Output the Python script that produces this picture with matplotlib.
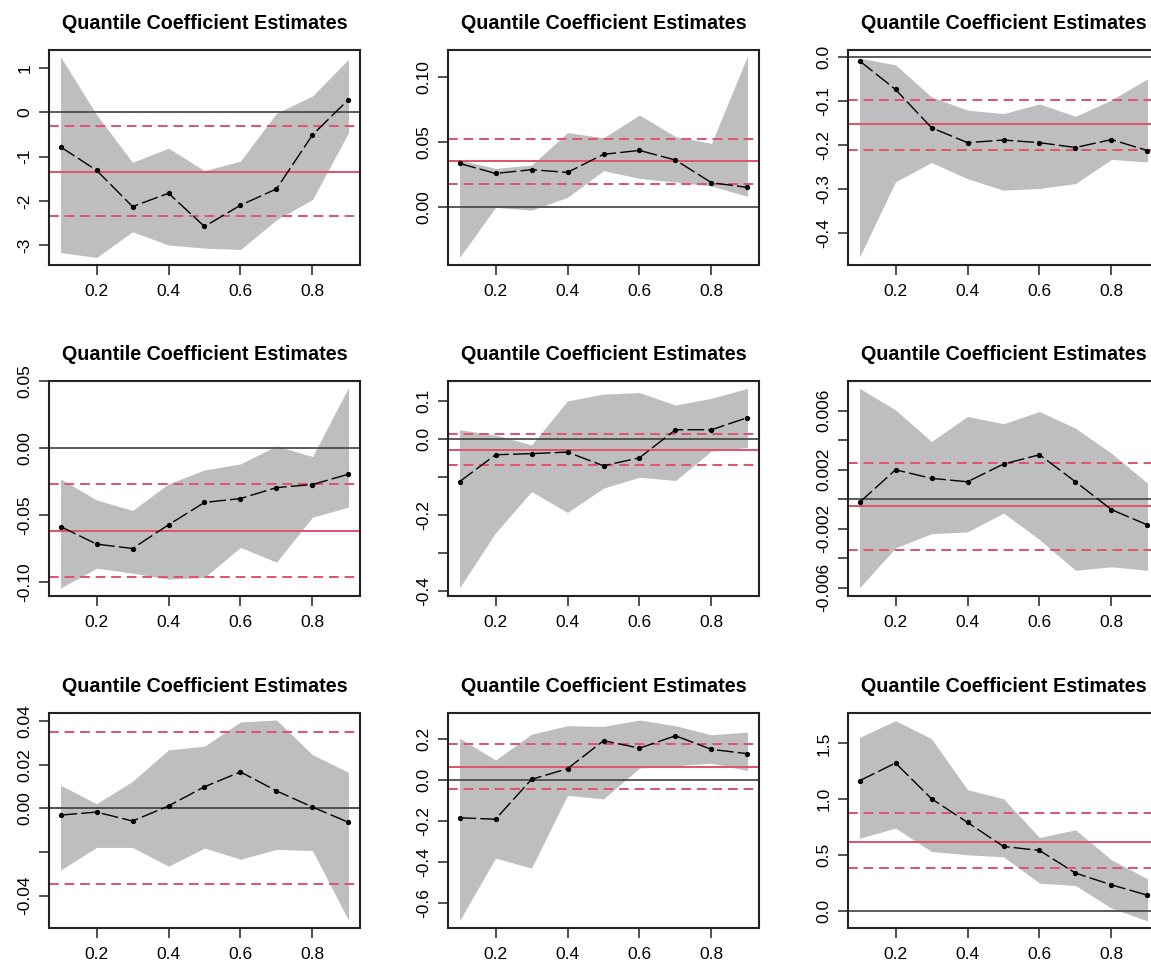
import matplotlib
matplotlib.use('Agg')
import matplotlib.pyplot as plt

plt.rcParams['font.family'] = ['Liberation Sans', 'DejaVu Sans']

# quantiles
taus = [0.1, 0.2, 0.3, 0.4, 0.5, 0.6, 0.7, 0.8, 0.9]

# --- quantile estimates (est), confidence band (lo / hi), OLS estimate and its band ---
est_1 = [-0.78, -1.31, -2.13, -1.83, -2.58, -2.10, -1.73, -0.51, 0.29]
lo_1 = [-3.17, -3.28, -2.70, -3.00, -3.07, -3.10, -2.43, -1.97, -0.46]
hi_1 = [1.26, -0.05, -1.13, -0.81, -1.32, -1.10, -0.02, 0.37, 1.20]
ols_1 = [-1.35, -2.35, -0.30]

est_2 = [0.0333, 0.0256, 0.0285, 0.0264, 0.0403, 0.0433, 0.0359, 0.0185, 0.0149]
lo_2 = [-0.039, -0.0005, -0.0026, 0.0072, 0.0277, 0.0218, 0.019, 0.016, 0.008]
hi_2 = [0.036, 0.0295, 0.032, 0.057, 0.053, 0.0705, 0.054, 0.0487, 0.116]
ols_2 = [0.0351, 0.0172, 0.0523]

est_3 = [-0.008, -0.073, -0.160, -0.194, -0.188, -0.194, -0.205, -0.187, -0.212]
lo_3 = [-0.454, -0.283, -0.239, -0.276, -0.302, -0.298, -0.287, -0.232, -0.238]
hi_3 = [-0.002, -0.017, -0.090, -0.120, -0.128, -0.106, -0.134, -0.097, -0.049]
ols_3 = [-0.152, -0.210, -0.097]

est_4 = [-0.0585, -0.0716, -0.0749, -0.0572, -0.0405, -0.0376, -0.0294, -0.0271, -0.0194]
lo_4 = [-0.1045, -0.0896, -0.0933, -0.0978, -0.0965, -0.0741, -0.0851, -0.0515, -0.044]
hi_4 = [-0.0229, -0.0386, -0.0465, -0.0266, -0.0162, -0.0117, 0.0017, -0.0062, 0.0453]
ols_4 = [-0.0622, -0.0965, -0.0266]

est_5 = [-0.112, -0.041, -0.038, -0.034, -0.070, -0.049, 0.025, 0.025, 0.057]
lo_5 = [-0.392, -0.247, -0.138, -0.193, -0.129, -0.100, -0.109, -0.031, -0.022]
hi_5 = [0.025, 0.011, -0.015, 0.101, 0.119, 0.123, 0.090, 0.108, 0.134]
ols_5 = [-0.028, -0.068, 0.015]

est_6 = [-0.00023, 0.00198, 0.0014, 0.00117, 0.00237, 0.0030, 0.00117, -0.00072, -0.00176]
lo_6 = [-0.00602, -0.00331, -0.00235, -0.00223, -0.00095, -0.00275, -0.00483, -0.0046, -0.00483]
hi_6 = [0.00751, 0.00604, 0.0039, 0.0056, 0.0051, 0.00593, 0.0048, 0.0031, 0.00108]
ols_6 = [-0.0005, -0.00343, 0.00244]

est_7 = [-0.0031, -0.0017, -0.0058, 0.0011, 0.0099, 0.0167, 0.008, 0.0006, -0.0064]
lo_7 = [-0.0283, -0.0179, -0.0179, -0.0265, -0.0182, -0.0233, -0.0188, -0.0193, -0.0513]
hi_7 = [0.0106, 0.0021, 0.0124, 0.0268, 0.0285, 0.0396, 0.0405, 0.0246, 0.0165]
ols_7 = [0.0001, -0.0347, 0.0349]

est_8 = [-0.185, -0.192, 0.002, 0.054, 0.190, 0.154, 0.214, 0.148, 0.127]
lo_8 = [-0.687, -0.381, -0.430, -0.076, -0.093, 0.057, 0.068, 0.081, 0.045]
hi_8 = [0.203, 0.096, 0.222, 0.263, 0.260, 0.291, 0.263, 0.219, 0.232]
ols_8 = [0.062, -0.045, 0.174]

est_9 = [1.165, 1.324, 1.004, 0.792, 0.577, 0.541, 0.338, 0.233, 0.140]
lo_9 = [0.651, 0.741, 0.532, 0.502, 0.484, 0.248, 0.227, 0.024, -0.090]
hi_9 = [1.554, 1.703, 1.542, 1.085, 1.004, 0.657, 0.726, 0.457, 0.287]
ols_9 = [0.621, 0.382, 0.875]

# y ticks and their labels (blank where R dropped an overlapping label)
yticks_1 = [-3, -2, -1, 0, 1]
ylabels_1 = ['-3', '-2', '-1', '0', '1']
yticks_2 = [0.00, 0.05, 0.10]
ylabels_2 = ['0.00', '0.05', '0.10']
yticks_3 = [-0.4, -0.3, -0.2, -0.1, 0.0]
ylabels_3 = ['-0.4', '-0.3', '-0.2', '-0.1', '0.0']
yticks_4 = [-0.10, -0.05, 0.00, 0.05]
ylabels_4 = ['-0.10', '-0.05', '0.00', '0.05']
yticks_5 = [-0.4, -0.3, -0.2, -0.1, 0.0, 0.1]
ylabels_5 = ['-0.4', '', '-0.2', '', '0.0', '0.1']
yticks_6 = [-0.006, -0.004, -0.002, 0.0, 0.002, 0.004, 0.006]
ylabels_6 = ['-0.006', '', '-0.002', '', '0.002', '', '0.006']
yticks_7 = [-0.04, -0.02, 0.00, 0.02, 0.04]
ylabels_7 = ['-0.04', '', '0.00', '0.02', '0.04']
yticks_8 = [-0.6, -0.4, -0.2, 0.0, 0.2]
ylabels_8 = ['-0.6', '-0.4', '-0.2', '0.0', '0.2']
yticks_9 = [0.0, 0.5, 1.0, 1.5]
ylabels_9 = ['0.0', '0.5', '1.0', '1.5']

xticks = [0.2, 0.4, 0.6, 0.8]
xlabels = ['0.2', '0.4', '0.6', '0.8']

panels = [
    (est_1, lo_1, hi_1, ols_1, yticks_1, ylabels_1, (-3.44, 1.41)),
    (est_2, lo_2, hi_2, ols_2, yticks_2, ylabels_2, (-0.0444, 0.1205)),
    (est_3, lo_3, hi_3, ols_3, yticks_3, ylabels_3, (-0.471, 0.0167)),
    (est_4, lo_4, hi_4, ols_4, yticks_4, ylabels_4, (-0.110, 0.0502)),
    (est_5, lo_5, hi_5, ols_5, yticks_5, ylabels_5, (-0.412, 0.1535)),
    (est_6, lo_6, hi_6, ols_6, yticks_6, ylabels_6, (-0.00654, 0.0080)),
    (est_7, lo_7, hi_7, ols_7, yticks_7, ylabels_7, (-0.0546, 0.0437)),
    (est_8, lo_8, hi_8, ols_8, yticks_8, ylabels_8, (-0.719, 0.325)),
    (est_9, lo_9, hi_9, ols_9, yticks_9, ylabels_9, (-0.149, 1.772)),
]

W, H = 1151, 965
fig = plt.figure(figsize=(W / 100, H / 100), dpi=100)

col_left = [49, 448, 848]
row_top = [50, 381, 713]
ax_w, ax_h = 311, 214.5

RED = '#DF536B'

for i, (est, lo, hi, ols, yt, yl, ylim) in enumerate(panels):
    r, c = divmod(i, 3)
    left = col_left[c] / W
    bottom = 1 - (row_top[r] + ax_h) / H
    ax = fig.add_axes([left, bottom, ax_w / W, ax_h / H])

    ax.fill_between(taus, lo, hi, color='#BEBEBE', linewidth=0, zorder=1)
    ax.plot(taus, est, color='black', lw=1.0, dashes=(12, 3), zorder=3)
    ax.plot(taus, est, 'o', color='black', ms=2.8, zorder=4)

    ax.axhline(ols[0], color=RED, lw=1.4, zorder=2)
    ax.axhline(ols[1], color=RED, lw=1.4, dashes=(5, 3), zorder=2)
    ax.axhline(ols[2], color=RED, lw=1.4, dashes=(5, 3), zorder=2)
    ax.axhline(0, color='#4D4D4D', lw=1.3, zorder=2.5)

    ax.set_xlim(0.068, 0.932)
    ax.set_ylim(*ylim)
    ax.set_xticks(xticks)
    ax.set_xticklabels(xlabels)
    ax.set_yticks(yt)
    ax.set_yticklabels(yl, rotation=90, va='center')
    ax.tick_params(length=7, width=1.1, labelsize=12.5, color='#222222')
    ax.tick_params(axis='x', pad=7)
    ax.tick_params(axis='y', pad=5)
    for sp in ax.spines.values():
        sp.set_linewidth(1.5)
        sp.set_color('#222222')
    ax.set_title('Quantile Coefficient Estimates', fontsize=14.2,
                 fontweight='bold', pad=15)

fig.savefig('out.png', dpi=100)
